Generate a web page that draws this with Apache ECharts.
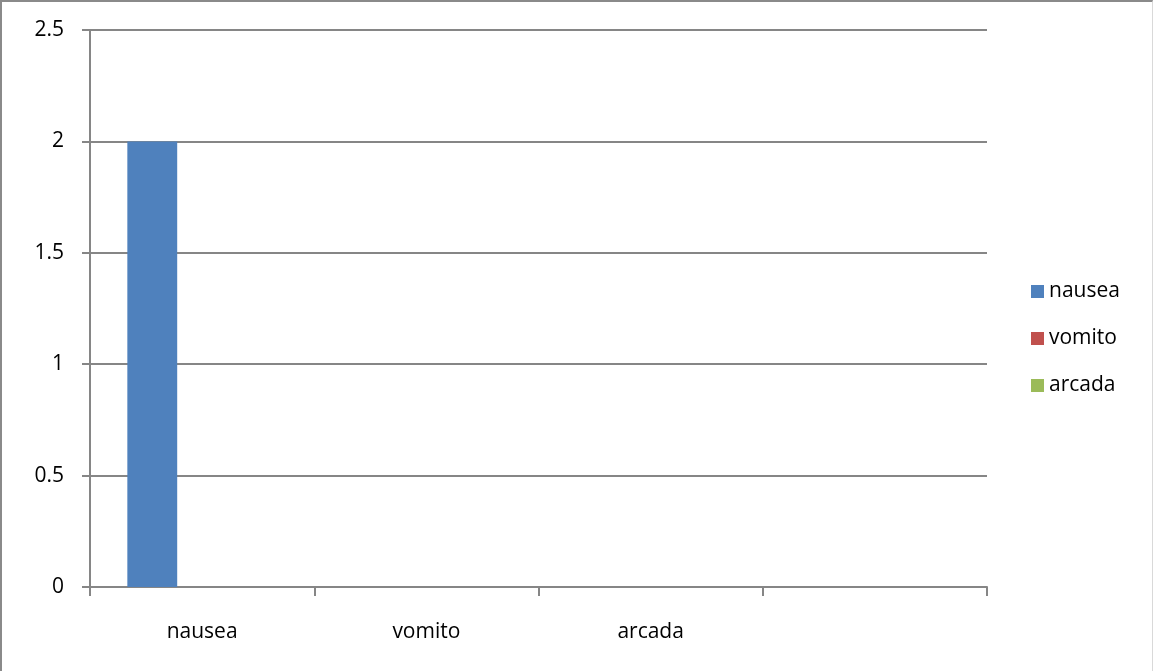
<!DOCTYPE html>
<html>
<head>
<meta charset="utf-8">
<script src="https://cdn.jsdelivr.net/npm/echarts@6/dist/echarts.min.js"></script>
<style>
  html, body { margin: 0; padding: 0; background: #fff; }
  #chart {
    width: 1153px; height: 671px; box-sizing: border-box;
    border-left: 2px solid #8a8a8a; border-top: 2px solid #8a8a8a;
    border-right: 1px solid #d9d9d9;
  }
</style>
</head>
<body>
<div id="chart"></div>
<script>
// categories (the fourth slot is blank in the original)
var categories = ['nausea', 'vomito', 'arcada', '']
var nausea = [2, 0, 0, 0]
var vomito = [0, 0, 0, 0]
var arcada = [0, 0, 0, 0]
var yMin = 0, yMax = 2.5, yStep = 0.5

var font = '"Open Sans", sans-serif'
var chart = echarts.init(document.getElementById('chart'))
chart.setOption({
    animation: false,
    textStyle: { fontFamily: font },
    grid: { left: 88, right: 165, top: 28, bottom: 84 },
    legend: {
        orient: 'vertical',
        left: 1024, top: 274,
        itemWidth: 13, itemHeight: 13, itemGap: 26,
        icon: 'rect',
        textStyle: { fontFamily: font, fontSize: 21, color: '#000' },
        data: ['nausea', 'vomito', 'arcada']
    },
    xAxis: {
        type: 'category',
        data: categories,
        axisLine: { lineStyle: { color: '#868686', width: 2 } },
        axisTick: { show: true, length: 9, lineStyle: { color: '#868686', width: 2 } },
        axisLabel: { color: '#000', fontSize: 21, margin: 35, fontFamily: font }
    },
    yAxis: {
        type: 'value',
        min: yMin, max: yMax, interval: yStep,
        axisLine: { show: true, lineStyle: { color: '#868686', width: 2 } },
        axisTick: { show: true, length: 8, lineStyle: { color: '#868686', width: 2 } },
        axisLabel: { color: '#000', fontSize: 21, margin: 26, fontFamily: font },
        splitLine: { lineStyle: { color: '#868686', width: 2 } }
    },
    series: [
        { name: 'nausea', type: 'bar', data: nausea, barGap: '0%', barCategoryGap: '33.3%', itemStyle: { color: '#4F81BD' } },
        { name: 'vomito', type: 'bar', data: vomito, itemStyle: { color: '#C0504D' } },
        { name: 'arcada', type: 'bar', data: arcada, itemStyle: { color: '#9BBB59' } }
    ]
})
</script>
</body>
</html>
